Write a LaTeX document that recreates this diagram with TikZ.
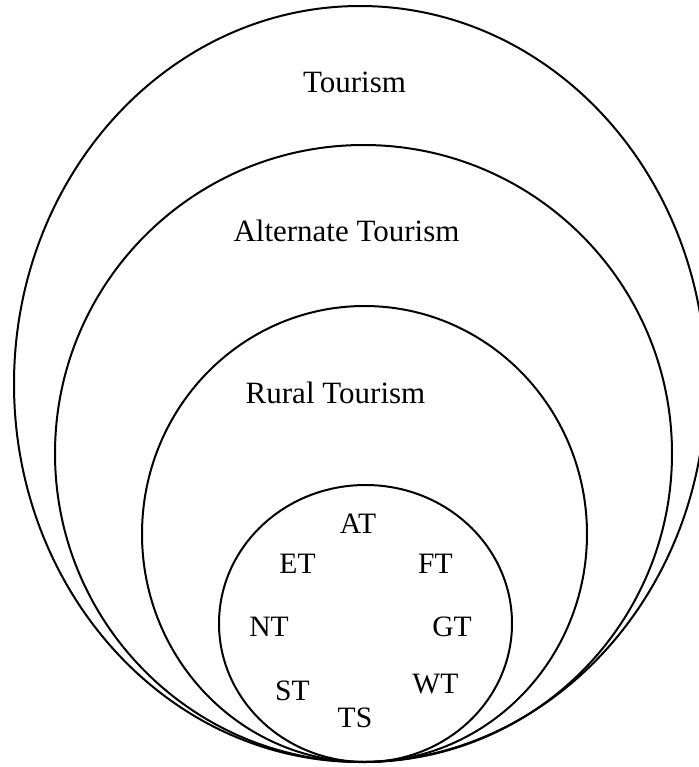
\documentclass[tikz,border=0pt]{standalone}
\usepackage{fontspec}
\setmainfont{Liberation Serif}
\usetikzlibrary{positioning}

\tikzset{
  ring/.style={line width=1pt},
  lbl/.style={anchor=base, inner sep=0pt, font=\fontsize{15.5}{18}\selectfont},
  kind/.style={anchor=base, inner sep=0pt, font=\fontsize{14.8}{17}\selectfont},
}

\begin{document}
\begin{tikzpicture}[x=0.5pt, y=-0.5pt]
        \useasboundingbox (0,0) rectangle (698,767);

        % Rings
        \draw[ring] (360,384)     ellipse [x radius=173pt, y radius=189pt];
        \draw[ring] (363.5,453.5) ellipse [x radius=154.25pt, y radius=154.25pt];
        \draw[ring] (364.5,534)   ellipse [x radius=111.25pt, y radius=114pt];
        \draw[ring] (365.5,623.5) ellipse [x radius=73.25pt, y radius=69.25pt];

        % Titles
        \node[lbl] (tourism) at (354.5,92)  {Tourism};
        \node[lbl] (alt)     at (346.5,241) {Alternate Tourism};
        \node[lbl] (rural)   at (335.5,403) {Rural Tourism};

        % Kinds
        \node[kind] (AT) at (358,533)   {AT};
        \node[kind] (ET) at (297.5,573) {ET};
        \node[kind] (FT) at (435.5,573) {FT};
        \node[kind] (NT) at (269,636)   {NT};
        \node[kind] (GT) at (452,636)   {GT};
        \node[kind] (ST) at (292.5,700) {ST};
        \node[kind] (WT) at (435.5,693) {WT};
        \node[kind] (TS) at (355,727)   {TS};

      \end{tikzpicture}
\end{document}
